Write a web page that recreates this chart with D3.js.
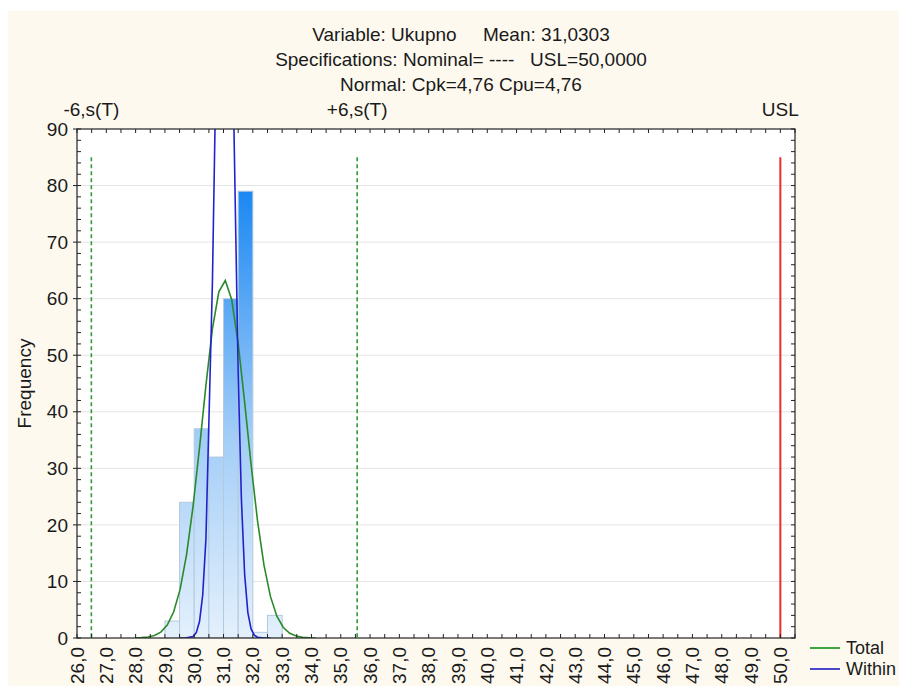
<!DOCTYPE html>
<html>
<head>
<meta charset="utf-8">
<script src="https://cdn.jsdelivr.net/npm/d3@7"></script>
<style>
  html, body { margin: 0; padding: 0; background: #ffffff; }
  svg { display: block; font-family: "Liberation Sans", Arial, sans-serif; }
</style>
</head>
<body>
<svg id="chart" width="899" height="686"></svg>
<script>
// ---------- data ----------
const titleLines = [
  "Variable: Ukupno     Mean: 31,0303",
  "Specifications: Nominal= ----   USL=50,0000",
  "Normal: Cpk=4,76 Cpu=4,76"
];
const binLower = [29.0, 29.5, 30.0, 30.5, 31.0, 31.5, 32.0, 32.5];
const binUpper = [29.5, 30.0, 30.5, 31.0, 31.5, 32.0, 32.5, 33.0];
const binCounts = [3, 24, 37, 32, 60, 79, 1, 4];

const totalX = [27.98, 28.20, 28.42, 28.64, 28.86, 29.08, 29.30, 29.52, 29.74, 29.96,
                30.18, 30.40, 30.62, 30.84, 31.06, 31.28, 31.50, 31.72, 31.94, 32.16,
                32.38, 32.60, 32.82, 33.04, 33.26, 33.48, 33.70, 33.92, 34.14];
const totalY = [0.02, 0.06, 0.17, 0.43, 1.04, 2.29, 4.64, 8.64, 14.8, 23.3,
                33.6, 44.7, 54.6, 61.2, 63.2, 59.8, 52.1, 41.7, 30.7, 20.7,
                12.9, 7.36, 3.86, 1.86, 0.82, 0.34, 0.13, 0.04, 0.01];

const withinX = [29.52, 29.74, 29.96, 30.07, 30.18, 30.29, 30.40, 30.62, 30.84, 31.06, 31.28, 31.50,
                 31.61, 31.72, 31.83, 31.94, 32.05, 32.16, 32.38, 32.60];
const withinY = [0.0, 0.02, 0.28, 0.95, 2.9, 7.6, 17.6, 62.7, 130.6, 158.8, 112.8, 46.8,
                 24.5, 11.3, 4.5, 1.6, 0.5, 0.13, 0.01, 0.0];

const refLabels = ["-6,s(T)", "+6,s(T)", "USL"];
const refValues = [26.49, 35.56, 50.0];
const refKinds = ["green", "green", "red"];
const refTop = 85;

const xTickValues = d3.range(26, 51, 1);
const yTickValues = [0, 10, 20, 30, 40, 50, 60, 70, 80, 90];
const legendLabels = ["Total", "Within"];

// ---------- layout ----------
const svg = d3.select("#chart");
const W = 899, H = 686;
const plot = { left: 77, right: 795, top: 129, bottom: 638 };
const FS = 19;

svg.append("rect").attr("x", 8).attr("y", 11).attr("width", W - 8).attr("height", H - 11)
  .attr("fill", "#fdf9ef");

const x = d3.scaleLinear().domain([26, 50.5]).range([plot.left, plot.right]);
const y = d3.scaleLinear().domain([0, 90]).range([plot.bottom, plot.top]);

svg.append("rect").attr("x", plot.left).attr("y", plot.top)
  .attr("width", plot.right - plot.left).attr("height", plot.bottom - plot.top)
  .attr("fill", "#ffffff");

const defs = svg.append("defs");
defs.append("clipPath").attr("id", "clip").append("rect")
  .attr("x", plot.left).attr("y", plot.top)
  .attr("width", plot.right - plot.left).attr("height", plot.bottom - plot.top);

const grad = defs.append("linearGradient").attr("id", "barGrad")
  .attr("gradientUnits", "userSpaceOnUse")
  .attr("x1", 0).attr("x2", 0).attr("y1", y(0)).attr("y2", y(80));
grad.append("stop").attr("offset", "0%").attr("stop-color", "#e4f0fc");
grad.append("stop").attr("offset", "45%").attr("stop-color", "#a2cdf7");
grad.append("stop").attr("offset", "100%").attr("stop-color", "#1886f3");

// gridlines
svg.append("g").selectAll("line").data(yTickValues.filter(d => d > 0 && d < 90)).join("line")
  .attr("x1", plot.left).attr("x2", plot.right)
  .attr("y1", d => y(d)).attr("y2", d => y(d))
  .attr("stroke", "#e4e4e4").attr("stroke-width", 1);

const g = svg.append("g").attr("clip-path", "url(#clip)");

// bars
g.append("g").selectAll("rect").data(binCounts).join("rect")
  .attr("x", (d, i) => x(binLower[i]))
  .attr("width", (d, i) => x(binUpper[i]) - x(binLower[i]))
  .attr("y", d => y(d))
  .attr("height", d => y(0) - y(d))
  .attr("fill", "url(#barGrad)")
  .attr("stroke", "#b3c9de").attr("stroke-width", 1);

// reference lines
g.append("g").selectAll("line").data(refValues).join("line")
  .attr("x1", d => x(d)).attr("x2", d => x(d))
  .attr("y1", y(refTop)).attr("y2", y(0))
  .attr("stroke", (d, i) => refKinds[i] === "red" ? "#e8302a" : "#2f9a3c")
  .attr("stroke-width", (d, i) => refKinds[i] === "red" ? 2 : 1.6)
  .attr("stroke-dasharray", (d, i) => refKinds[i] === "red" ? null : "4,3");

// curves
const line = d3.line().x(d => x(d[0])).y(d => y(d[1]));
g.append("path").datum(totalX.map((v, i) => [v, totalY[i]]))
  .attr("d", line).attr("fill", "none").attr("stroke", "#2a8a2a").attr("stroke-width", 1.6);
g.append("path").datum(withinX.map((v, i) => [v, withinY[i]]))
  .attr("d", line).attr("fill", "none").attr("stroke", "#2222cc").attr("stroke-width", 1.6);

// frame
svg.append("rect").attr("x", plot.left).attr("y", plot.top)
  .attr("width", plot.right - plot.left).attr("height", plot.bottom - plot.top)
  .attr("fill", "none").attr("stroke", "#222").attr("stroke-width", 1.2);

// axes ticks
const minorX = d3.range(26, 50.51, 0.5);
const minorY = d3.range(0, 90.1, 2);
const ticks = svg.append("g").attr("stroke", "#222").attr("stroke-width", 1);
ticks.selectAll(".bt").data(minorX).join("line")
  .attr("x1", d => x(d)).attr("x2", d => x(d)).attr("y1", plot.bottom).attr("y2", plot.bottom - 4);
ticks.selectAll(".tt").data(minorX).join("line")
  .attr("x1", d => x(d)).attr("x2", d => x(d)).attr("y1", plot.top).attr("y2", plot.top + 4);
ticks.selectAll(".lt").data(minorY).join("line")
  .attr("x1", plot.left).attr("x2", plot.left + 4).attr("y1", d => y(d)).attr("y2", d => y(d));
ticks.selectAll(".lm").data(yTickValues).join("line")
  .attr("x1", plot.left - 4).attr("x2", plot.left).attr("y1", d => y(d)).attr("y2", d => y(d));
ticks.selectAll(".rt").data(minorY).join("line")
  .attr("x1", plot.right).attr("x2", plot.right - 4).attr("y1", d => y(d)).attr("y2", d => y(d));

// tick labels
const fmt = d => d.toFixed(1).replace(".", ",");
svg.append("g").selectAll("text").data(xTickValues).join("text")
  .attr("transform", d => `translate(${x(d)},${plot.bottom + 9}) rotate(-90)`)
  .attr("text-anchor", "end").attr("dy", "0.35em")
  .attr("font-size", FS).attr("fill", "#1a1a1a").text(fmt);
svg.append("g").selectAll("text").data(yTickValues).join("text")
  .attr("x", plot.left - 9).attr("y", d => y(d)).attr("dy", "0.35em")
  .attr("text-anchor", "end").attr("font-size", FS).attr("fill", "#1a1a1a").text(d => d);

// axis title
svg.append("text").attr("transform", `translate(31,${(plot.top + plot.bottom) / 2}) rotate(-90)`)
  .attr("text-anchor", "middle").attr("font-size", FS).attr("fill", "#1a1a1a").text("Frequency");

// reference labels
svg.append("g").selectAll("text").data(refLabels).join("text")
  .attr("x", (d, i) => x(refValues[i])).attr("y", 116)
  .attr("text-anchor", "middle").attr("font-size", FS).attr("fill", "#1a1a1a").text(d => d);

// title
svg.append("g").selectAll("text").data(titleLines).join("text")
  .attr("x", 461).attr("y", (d, i) => 41 + i * 25)
  .attr("text-anchor", "middle").attr("font-size", FS).attr("fill", "#1a1a1a")
  .attr("xml:space", "preserve").style("white-space", "pre").text(d => d);

// legend
const legColors = ["#3fa63f", "#4848c8"];
const leg = svg.append("g").selectAll("g").data(legendLabels).join("g")
  .attr("transform", (d, i) => `translate(810,${648 + i * 21})`);
leg.append("line").attr("x1", 0).attr("x2", 30).attr("y1", 0).attr("y2", 0)
  .attr("stroke", (d, i) => legColors[i]).attr("stroke-width", 2);
leg.append("text").attr("x", 36).attr("dy", "0.35em").attr("font-size", 18)
  .attr("fill", "#1a1a1a").text(d => d);
</script>
</body>
</html>
